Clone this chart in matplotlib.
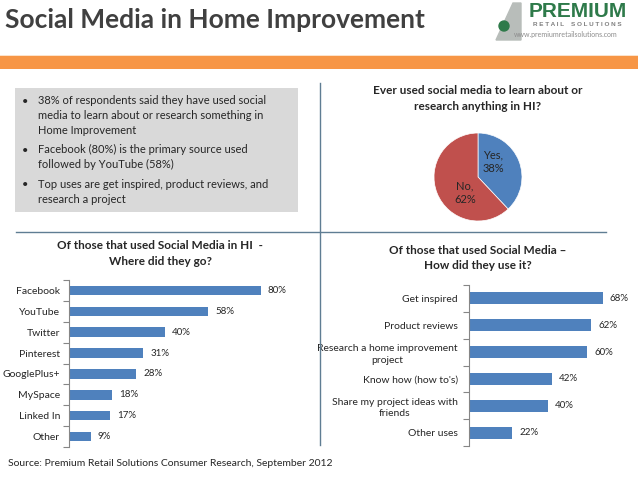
import matplotlib
matplotlib.use("Agg")
import matplotlib.pyplot as plt
from matplotlib.patches import Rectangle, Polygon, Circle
from matplotlib.lines import Line2D

plt.rcParams['font.family'] = ['Lato', 'DejaVu Sans']

# ---------------- data ----------------
pie_labels = ["Yes,\n38%", "No,\n62%"]
pie_values = [38, 62]

where_cats = ["Facebook", "YouTube", "Twitter", "Pinterest", "GooglePlus+", "MySpace", "Linked In", "Other"]
where_vals = [80, 58, 40, 31, 28, 18, 17, 9]

how_cats = ["Get inspired", "Product reviews", "Research a home improvement\nproject",
            "Know how (how to's)", "Share my project ideas with\nfriends", "Other uses"]
how_vals = [68, 62, 60, 42, 40, 22]

bullets = [
    "38% of respondents said they have used social\nmedia to learn about or research something in\nHome Improvement",
    "Facebook (80%) is the primary source used\nfollowed by YouTube (58%)",
    "Top uses are get inspired, product reviews, and\nresearch a project",
]

title = "Social Media in Home Improvement"
pie_title = "Ever used social media to learn about or\nresearch anything in HI?"
where_title = "Of those that used Social Media in HI  -\nWhere did they go?"
how_title = "Of those that used Social Media \u2013\nHow did they use it?"
source = "Source: Premium Retail Solutions Consumer Research, September 2012"

W, H = 638, 479
BLUE = "#4F81BD"
RED = "#C0504D"
TXT = "#262626"
LINE = "#5F7D93"

fig = plt.figure(figsize=(W / 100, H / 100), dpi=100)
fig.patch.set_facecolor("white")


def fx(x):
    return x / W


def fy(y):
    return 1 - y / H


def rect(x0, y0, x1, y1):
    return [fx(x0), fy(y1), (x1 - x0) / W, (y1 - y0) / H]


# overlay axes for decorations in pixel coordinates (drawn on top)
deco = fig.add_axes([0, 0, 1, 1])
deco.set_xlim(0, W)
deco.set_ylim(H, 0)
deco.axis("off")
deco.set_zorder(10)
deco.patch.set_alpha(0)

# title
deco.text(5, 20, title, fontsize=19, fontweight="bold", color="#404040", va="center", ha="left")

# logo
deco.add_patch(Polygon([[496, 40], [513, 3], [521, 3], [521, 40]], closed=True, color="#B8BDBA"))
deco.add_patch(Circle((504, 26), 5, color="#2E7A4A"))
deco.text(577.5, 11.5, "PREMIUM", fontsize=15, fontweight="bold", color="#2E7A4A", ha="center", va="center",
          family=["Liberation Sans", "DejaVu Sans"])
deco.text(577.5, 24.5, "R E T A I L    S O L U T I O N S", fontsize=4.6, fontweight="bold", color="#808080",
          ha="center", va="center", family=["Liberation Sans", "DejaVu Sans"])
deco.text(566, 34.5, "www.premiumretailsolutions.com", fontsize=5, color="#8C8C8C", ha="center", va="center")

# orange band
deco.add_patch(Rectangle((0, 56), W, 13, color="#F79646", lw=0))
deco.add_patch(Rectangle((0, 54.5), W, 1.5, color="#FCE3CC", lw=0))

# grey bullet box
deco.add_patch(Rectangle((15, 88), 283, 124, color="#D9D9D9", lw=0, zorder=0))
ys = [101, 150, 185]
for b, y0 in zip(bullets, ys):
    deco.text(22, y0, "\u2022", fontsize=8, color=TXT, va="center", ha="left")
    deco.text(38, y0 - 6, b, fontsize=8, color=TXT, va="top", ha="left", linespacing=1.42)

# separators
deco.add_line(Line2D([319.5, 319.5], [83, 445], color=LINE, lw=1))
deco.add_line(Line2D([16, 606], [231.5, 231.5], color=LINE, lw=1))

# chart titles
deco.text(478, 98.5, pie_title, fontsize=8.5, fontweight="bold", color=TXT, ha="center", va="center",
          linespacing=1.45)
deco.text(160, 253.5, where_title, fontsize=8.5, fontweight="bold", color=TXT, ha="center", va="center",
          linespacing=1.45)
deco.text(478, 258, how_title, fontsize=8.5, fontweight="bold", color=TXT, ha="center", va="center",
          linespacing=1.45)

# source
deco.text(8, 463, source, fontsize=7.5, color=TXT, ha="left", va="center")

# ---------------- pie ----------------
cx, cy, r = 478, 177, 44
pax = fig.add_axes(rect(cx - r, cy - r, cx + r, cy + r))
pax.pie(pie_values, colors=[BLUE, RED], startangle=90, counterclock=False, radius=1.0,
        wedgeprops=dict(linewidth=0.5, edgecolor="white"))
pax.set_xlim(-1, 1)
pax.set_ylim(-1, 1)
pax.set_aspect("equal")
pax.axis("off")
deco.text(493, 162, pie_labels[0], fontsize=8, color=TXT, ha="center", va="center", linespacing=1.3)
deco.text(465, 193, pie_labels[1], fontsize=8, color=TXT, ha="center", va="center", linespacing=1.3)


# ---------------- bars ----------------
def bar_axes(r_, cats, vals, xmax, bh, pad):
    ax = fig.add_axes(r_)
    n = len(cats)
    pos = list(range(n))
    ax.barh(pos, vals, height=bh, color=BLUE, lw=0)
    ax.set_ylim(n - 0.5, -0.5)
    ax.set_xlim(0, xmax)
    ax.set_yticks(pos)
    ax.set_yticklabels(cats, fontsize=7.5, color=TXT)
    for lab in ax.get_yticklabels():
        lab.set_multialignment("center")
        lab.set_linespacing(1.35)
    ax.set_yticks([i - 0.5 for i in range(n + 1)], minor=True)
    ax.tick_params(axis="y", which="major", length=0, pad=pad)
    ax.tick_params(axis="y", which="minor", length=4, color="#868686", width=0.8)
    ax.set_xticks([])
    for s in ["top", "right", "bottom"]:
        ax.spines[s].set_visible(False)
    ax.spines["left"].set_color("#868686")
    ax.spines["left"].set_linewidth(0.8)
    ax.patch.set_alpha(0)
    for p, v in zip(pos, vals):
        ax.annotate(f"{v}%", (v, p), xytext=(5, 0), textcoords="offset points", fontsize=7,
                    color=TXT, va="center", ha="left")
    return ax


bar_axes(rect(69, 280, 69 + 240, 447), where_cats, where_vals, 100, 0.45, 6.5)
bar_axes(rect(469, 285, 469 + 157.6, 446), how_cats, how_vals, 80, 0.45, 8)

fig.savefig("out.png", dpi=100)
